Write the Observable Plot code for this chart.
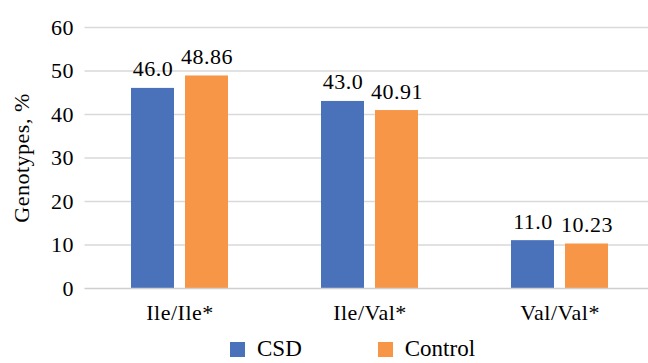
<!DOCTYPE html>
<html>
<head>
<meta charset="utf-8">
<script src="https://cdn.jsdelivr.net/npm/d3@7"></script>
<script src="https://cdn.jsdelivr.net/npm/@observablehq/plot@0.6"></script>
<style>
  html, body { margin: 0; padding: 0; background: #fff; overflow: hidden; }
  #chart { width: 648px; height: 363px; overflow: hidden; }
  #chart > svg { display: block; }
  #legend-wrap { height: 33px; font-family: "Liberation Serif", "Times New Roman", serif; }
  #legend-wrap > div {
    display: flex !important;
    align-items: center !important;
    height: 20px !important;
    min-height: 0 !important;
    margin: 9px 0 0 230px !important;
    padding: 0 !important;
  }
  #legend-wrap > div > span {
    display: inline-flex !important;
    align-items: center !important;
    margin-right: 76px !important;
    line-height: 20px !important;
  }
  #legend-wrap > div > span > svg { margin-right: 12px !important; }
</style>
</head>
<body>
<div id="chart"></div>
<script>
// Genotype frequencies (%), CSD patients vs. controls
const genotypes = ["Ile/Ile*", "Ile/Val*", "Val/Val*"];
const groups = ["CSD", "Control"];
const csdValues = [46.0, 43.0, 11.0];
const controlValues = [48.86, 40.91, 10.23];
const csdLabels = ["46.0", "43.0", "11.0"];
const controlLabels = ["48.86", "40.91", "10.23"];
const yTicks = [0, 10, 20, 30, 40, 50, 60];
const groupColors = ["#4a72ba", "#f79646"];

const csdRows = genotypes.map((g, i) => ({genotype: g, group: groups[0], value: csdValues[i], label: csdLabels[i]}));
const controlRows = genotypes.map((g, i) => ({genotype: g, group: groups[1], value: controlValues[i], label: controlLabels[i]}));

const fontFamily = "'Liberation Serif', 'Times New Roman', serif";

// Each genotype band holds a pair of bars: the CSD bar on the left half,
// the Control bar on the right half, with a small gap between them.
const barWidth = 43;
const pairGap = 11;
const halfShift = (barWidth + pairGap) / 2;

const labelOpts = {lineAnchor: "bottom", dy: -12, fill: "#000", fontSize: 22};

const chart = Plot.plot({
  width: 648,
  height: 330,
  marginTop: 27,
  marginBottom: 42,
  marginLeft: 84.5,
  marginRight: -6.5,
  style: {fontFamily, fontSize: "22px", color: "#000", background: "#fff", letterSpacing: "0.5px"},
  x: {domain: genotypes, paddingInner: 0.4895, paddingOuter: 0.2447, label: null, tickSize: 0, tickPadding: 16},
  y: {
    domain: [0, 60], ticks: yTicks, tickSize: 0, tickPadding: 11,
    label: "Genotypes, %", labelAnchor: "center", labelOffset: 72, labelArrow: "none"
  },
  color: {domain: groups, range: groupColors},
  marks: [
    Plot.ruleY(yTicks.slice(1), {stroke: "#d9d9d9", strokeWidth: 1.4}),
    Plot.barY(csdRows, {x: "genotype", y: "value", fill: "group", insetRight: barWidth + pairGap}),
    Plot.barY(controlRows, {x: "genotype", y: "value", fill: "group", insetLeft: barWidth + pairGap}),
    Plot.ruleY([0], {stroke: "#cfcfcf", strokeWidth: 1.4}),
    Plot.text(csdRows, {x: "genotype", y: "value", text: "label", dx: -halfShift, ...labelOpts}),
    Plot.text(controlRows, {x: "genotype", y: "value", text: "label", dx: halfShift, ...labelOpts})
  ]
});

const legend = Plot.legend({
  color: {domain: groups, range: groupColors},
  legend: "swatches",
  swatchSize: 15,
  style: {fontFamily, fontSize: "23px", color: "#000"}
});

// Serif type for the legend entries, matching the chart text
for (const el of [legend, ...legend.querySelectorAll("span")]) {
  el.style.setProperty("font-family", fontFamily, "important");
  el.style.setProperty("font-size", "23px", "important");
  el.style.setProperty("color", "#000", "important");
}

const legendWrap = document.createElement("div");
legendWrap.id = "legend-wrap";
legendWrap.append(legend);

document.getElementById("chart").append(chart, legendWrap);
</script>
</body>
</html>
